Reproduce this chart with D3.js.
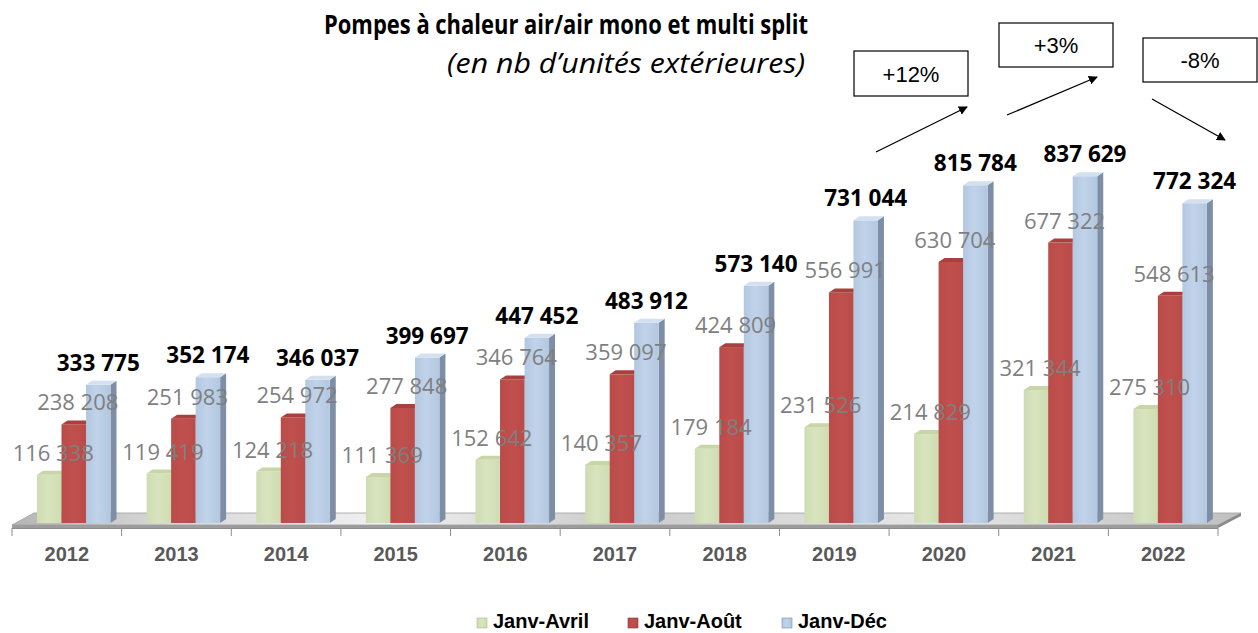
<!DOCTYPE html>
<html><head><meta charset="utf-8">
<script src="https://cdn.jsdelivr.net/npm/d3@7"></script>
<style>html,body{margin:0;padding:0;background:#fff;}svg{display:block;}</style>
</head><body>
<svg id="chart" width="1258" height="633"></svg>
<script>
const years = ["2012","2013","2014","2015","2016","2017","2018","2019","2020","2021","2022"];
const seriesNames = ["Janv-Avril","Janv-Août","Janv-Déc"];
const janvAvril = [116338,119419,124218,111369,152642,140357,179184,231526,214829,321344,275310];
const janvAout  = [238208,251983,254972,277848,346764,359097,424809,556991,630704,677322,548613];
const janvDec   = [333775,352174,346037,399697,447452,483912,573140,731044,815784,837629,772324];
const changes = [{label:"+12%", from:"2019", to:"2020"},{label:"+3%", from:"2020", to:"2021"},{label:"-8%", from:"2021", to:"2022"}];

const svg = d3.select("#chart");
const fr = d3.formatLocale({decimal:",", thousands:"\u00a0", grouping:[3], currency:["","€"]});
const fmt = fr.format(",d");

const base = 523;
const x = d3.scaleBand().domain(years).range([12,1218]).paddingInner(0).paddingOuter(0);
const xs = d3.scaleBand().domain(seriesNames).range([25, 25+3*24.5]);
const y = d3.scaleLinear().domain([0,1000000]).range([base, base-414]);
const DX = 6, DY = -4;

const colors = {
  "Janv-Avril": {front:"#d7e4bd", front2:"#cfdcb3", top:"#c6d6a6", side:"#a9b98a"},
  "Janv-Août": {front:"#c0504d", front2:"#b94b48", top:"#a9403d", side:"#8e3633"},
  "Janv-Déc": {front:"#c0d3ea", front2:"#b3c7e0", top:"#d3e0ef", side:"#7d8ea6"}
};
const data = years.map((yr,i)=>({year:yr, values:[
  {s:"Janv-Avril", v:janvAvril[i]},{s:"Janv-Août", v:janvAout[i]},{s:"Janv-Déc", v:janvDec[i]}]}));

const defs = svg.append("defs");
const fg = defs.append("linearGradient").attr("id","floorG").attr("x1","0").attr("x2","1").attr("y1","0").attr("y2","0");
[["0%","#b5b5b5"],["12%","#d6d6d6"],["30%","#f0f0f0"],["50%","#cbcbcb"],["75%","#e6e6e6"],["100%","#c0c0c0"]].forEach(([o,c])=>fg.append("stop").attr("offset",o).attr("stop-color",c));
seriesNames.forEach((s,k)=>{
  const g = defs.append("linearGradient").attr("id","bg"+k).attr("x1","0").attr("x2","1");
  g.append("stop").attr("offset","0%").attr("stop-color",colors[s].front2);
  g.append("stop").attr("offset","45%").attr("stop-color",colors[s].front);
  g.append("stop").attr("offset","100%").attr("stop-color",colors[s].front2);
});
const mk = defs.append("marker").attr("id","arr").attr("viewBox","0 0 10 10").attr("refX",9).attr("refY",5)
  .attr("markerWidth",9).attr("markerHeight",9).attr("orient","auto").attr("markerUnits","userSpaceOnUse");
mk.append("path").attr("d","M0,0 L10,5 L0,10 Z").attr("fill","#000");

// floor
const x0 = x.range()[0], x1 = x.range()[1];
const fd = 22, fh = 12;
const fy = 525;
svg.append("polygon").attr("points",[[x0,fy],[x1,fy],[x1+fd+1,fy-fh],[x0+fd,fy-fh]].join(" "))
  .attr("fill","url(#floorG)").attr("stroke","#a0a0a0").attr("stroke-width",0.8);
svg.append("polygon").attr("points",[[x0,fy],[x1,fy],[x1,fy+3],[x0,fy+3]].join(" "))
  .attr("fill","#9c9c9c");
svg.append("polygon").attr("points",[[x1,fy],[x1+fd+1,fy-fh],[x1+fd+1,fy-fh+3],[x1,fy+3]].join(" "))
  .attr("fill","#8a8a8a");

// ticks
const tickX = years.map(yr=>x(yr)).concat([x1]);
svg.append("g").selectAll("line").data(tickX).join("line")
  .attr("x1",d=>d).attr("x2",d=>d).attr("y1",fy+3).attr("y2",fy+11).attr("stroke","#8c8c8c").attr("stroke-width",1);
svg.append("line").attr("x1",x0).attr("x2",x1).attr("y1",fy+3.5).attr("y2",fy+3.5).attr("stroke","#8c8c8c");

// year labels
svg.append("g").selectAll("text").data(years).join("text")
  .attr("x",d=>x(d)+x.bandwidth()/2).attr("y",561).attr("text-anchor","middle")
  .attr("font-family","Liberation Sans, Arial, sans-serif").attr("font-weight","bold").attr("font-size",20)
  .attr("fill","#595959").text(d=>d);

// bars
const bw = xs.bandwidth();
const groups = svg.append("g").selectAll("g").data(data).join("g");
groups.each(function(d){
  const g = d3.select(this);
  d.values.forEach((b,k)=>{
    const bx = x(d.year)+xs(b.s), top = y(b.v), c = colors[b.s];
    g.append("polygon").attr("points",[[bx+bw,top],[bx+bw+DX,top+DY],[bx+bw+DX,base+DY],[bx+bw,base]].join(" ")).attr("fill",c.side);
    g.append("rect").attr("x",bx).attr("y",top).attr("width",bw).attr("height",base-top).attr("fill","url(#bg"+k+")");
    g.append("polygon").attr("points",[[bx,top],[bx+bw,top],[bx+bw+DX,top+DY],[bx+DX,top+DY]].join(" ")).attr("fill",c.top);
  });
});

// value labels
groups.each(function(d){
  const g = d3.select(this);
  d.values.forEach((b,k)=>{
    const bx = x(d.year)+xs(b.s)+bw/2, top = y(b.v);
    const isTot = k===2;
    g.append("text").attr("x",bx+(isTot?0:4)).attr("y",top-14).attr("text-anchor","middle")
      .attr("font-family","Open Sans, sans-serif").attr("font-size",isTot?22.5:22)
      .attr("font-weight",isTot?"bold":"normal").attr("fill",isTot?"#000":"#7f7f7f")
      .text(fmt(b.v));
  });
});

// title
svg.append("text").attr("x",566).attr("y",34).attr("text-anchor","middle")
  .attr("font-family","Open Sans, sans-serif").attr("font-weight","bold").attr("font-size",26).attr("fill","#000")
  .attr("textLength",484).attr("lengthAdjust","spacingAndGlyphs")
  .text("Pompes à chaleur air/air mono et multi split");
svg.append("text").attr("x",626).attr("y",73).attr("text-anchor","middle")
  .attr("font-family","Open Sans, sans-serif").attr("font-style","italic").attr("font-size",28).attr("fill","#000")
  .attr("textLength",358).attr("lengthAdjust","spacingAndGlyphs")
  .text("(en nb d’unités extérieures)");

// change boxes
const boxes = [{x:854,y:51,w:114,h:45},{x:999,y:23,w:114,h:44},{x:1143,y:38,w:114,h:44}];
const arrows = [[876,152,967,107],[1007,115,1097,77],[1152,99,1225,140]];
changes.forEach((c,i)=>{
  const b = boxes[i];
  svg.append("rect").attr("x",b.x).attr("y",b.y).attr("width",b.w).attr("height",b.h).attr("fill","#fff").attr("stroke","#000").attr("stroke-width",1.2);
  svg.append("text").attr("x",b.x+b.w/2).attr("y",b.y+b.h/2+8).attr("text-anchor","middle")
    .attr("font-family","Liberation Sans, Arial, sans-serif").attr("font-size",22).attr("fill","#000").text(c.label);
  const a = arrows[i];
  svg.append("line").attr("x1",a[0]).attr("y1",a[1]).attr("x2",a[2]).attr("y2",a[3]).attr("stroke","#000").attr("stroke-width",1.3).attr("marker-end","url(#arr)");
});

// legend
const legX = [477,628,782];
const leg = svg.append("g");
seriesNames.forEach((s,k)=>{
  leg.append("rect").attr("x",legX[k]).attr("y",618).attr("width",10).attr("height",10).attr("fill","url(#bg"+k+")").attr("stroke",colors[s].side).attr("stroke-width",0.6);
  leg.append("text").attr("x",legX[k]+16).attr("y",628).attr("font-family","Liberation Sans, Arial, sans-serif")
    .attr("font-weight","bold").attr("font-size",20).attr("fill","#000").text(s);
});
</script>
</body></html>
